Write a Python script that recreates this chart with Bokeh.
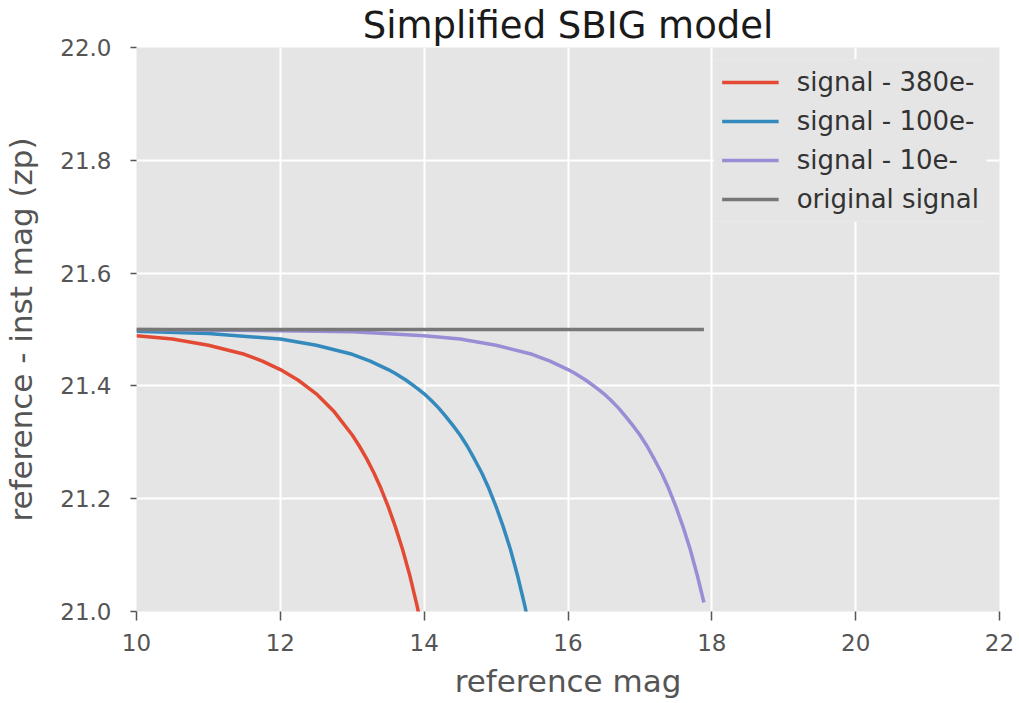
from bokeh.plotting import figure
from bokeh.models import Range1d, Legend, LegendItem, FixedTicker, PrintfTickFormatter
from bokeh.embed import file_html
from bokeh.resources import INLINE

# ---- data ----
mag_red = [10.0, 10.5, 11.0, 11.5, 11.75, 12.0, 12.25, 12.5, 12.75, 13.0, 13.1, 13.2, 13.3,
           13.4, 13.5, 13.6, 13.7, 13.8, 13.9, 14.0]
zp_red = [21.489, 21.483, 21.472, 21.456, 21.444, 21.429, 21.410, 21.386, 21.354, 21.313, 21.293,
          21.271, 21.246, 21.218, 21.186, 21.150, 21.110, 21.064, 21.011, 20.949]

mag_blue = [10.0, 11.0, 12.0, 12.5, 13.0, 13.25, 13.5, 13.6, 13.75, 13.9, 14.0, 14.1, 14.2, 14.3,
            14.4, 14.5, 14.6, 14.7, 14.8, 14.9, 15.0, 15.1, 15.2, 15.3, 15.4, 15.5]
zp_blue = [21.497, 21.493, 21.483, 21.472, 21.456, 21.444, 21.429, 21.422, 21.410, 21.396, 21.386,
           21.374, 21.361, 21.346, 21.330, 21.313, 21.293, 21.270, 21.246, 21.218, 21.186, 21.150,
           21.110, 21.063, 21.010, 20.949]

mag_purple = [10.0, 12.0, 13.0, 14.0, 14.5, 15.0, 15.5, 15.75, 16.0, 16.1, 16.25, 16.4, 16.5,
              16.6, 16.7, 16.8, 16.9, 17.0, 17.1, 17.2, 17.3, 17.4, 17.5, 17.6, 17.7, 17.8, 17.89]
zp_purple = [21.500, 21.498, 21.496, 21.489, 21.483, 21.472, 21.456, 21.444, 21.429, 21.422, 21.410,
             21.396, 21.386, 21.374, 21.361, 21.346, 21.330, 21.313, 21.293, 21.270, 21.246, 21.218,
             21.186, 21.150, 21.110, 21.063, 21.016]

mag_orig = [10.0, 17.89]
zp_orig = [21.5, 21.5]

series_labels = ["signal - 380e-", "signal - 100e-", "signal - 10e-", "original signal"]
series_colors = ["#E24A33", "#348ABD", "#988ED5", "#777777"]

x_ticks = [10, 12, 14, 16, 18, 20, 22]
y_ticks = [21.0, 21.2, 21.4, 21.6, 21.8, 22.0]

FONT = "DejaVu Sans"

p = figure(width=1019, height=703, output_backend="svg", toolbar_location=None,
           x_range=Range1d(10, 22), y_range=Range1d(21.0, 22.0),
           title="Simplified SBIG model")
p.min_border_left = 136
p.min_border_right = 20
p.min_border_top = 47
p.min_border_bottom = 92

p.background_fill_color = "#E5E5E5"
p.border_fill_color = "white"
p.outline_line_color = None

p.title.text_font = FONT
p.title.text_font_size = "37px"
p.title.text_font_style = "normal"
p.title.text_color = "#1a1a1a"
p.title.align = "center"
p.title.standoff = 1

for g in (p.xgrid, p.ygrid):
    g.grid_line_color = "white"
    g.grid_line_width = 2

p.xaxis.ticker = FixedTicker(ticks=x_ticks)
p.yaxis.ticker = FixedTicker(ticks=y_ticks)
p.xaxis.formatter = PrintfTickFormatter(format="%d")
p.yaxis.formatter = PrintfTickFormatter(format="%.1f")

for ax in (p.xaxis, p.yaxis):
    ax.axis_line_color = None
    ax.major_tick_line_color = "#555555"
    ax.major_tick_line_width = 1.5
    ax.major_tick_in = 0
    ax.minor_tick_line_color = None
    ax.major_label_text_font = FONT
    ax.major_label_text_font_size = "23px"
    ax.major_label_text_color = "#555555"
    ax.axis_label_text_font = FONT
    ax.axis_label_text_font_size = "31px"
    ax.axis_label_text_font_style = "normal"
    ax.axis_label_text_color = "#555555"

p.xaxis.major_tick_out = 9
p.xaxis.major_label_standoff = 13
p.xaxis.axis_label = "reference mag"
p.xaxis.axis_label_standoff = 9

p.yaxis.major_tick_out = 6
p.yaxis.major_label_standoff = 19
p.yaxis.axis_label = "reference - inst mag (zp)"
p.yaxis.axis_label_standoff = 18

renderers = []
for xs, ys, c in [(mag_red, zp_red, series_colors[0]),
                  (mag_blue, zp_blue, series_colors[1]),
                  (mag_purple, zp_purple, series_colors[2]),
                  (mag_orig, zp_orig, series_colors[3])]:
    renderers.append(p.line(xs, ys, line_color=c, line_width=3.5))

legend = Legend(items=[LegendItem(label=l, renderers=[r]) for l, r in zip(series_labels, renderers)])
legend.location = "top_right"
legend.margin = 12
legend.padding = 7
legend.spacing = 9
legend.glyph_width = 57
legend.glyph_height = 28
legend.label_height = 28
legend.label_standoff = 18
legend.label_text_font = FONT
legend.label_text_font_size = "26px"
legend.label_text_color = "#333333"
legend.background_fill_color = "#E5E5E5"
legend.background_fill_alpha = 1.0
legend.border_line_color = "#EDEDED"
legend.border_line_width = 1.5
p.add_layout(legend)

open("out.html", "w").write(file_html(p, INLINE))
